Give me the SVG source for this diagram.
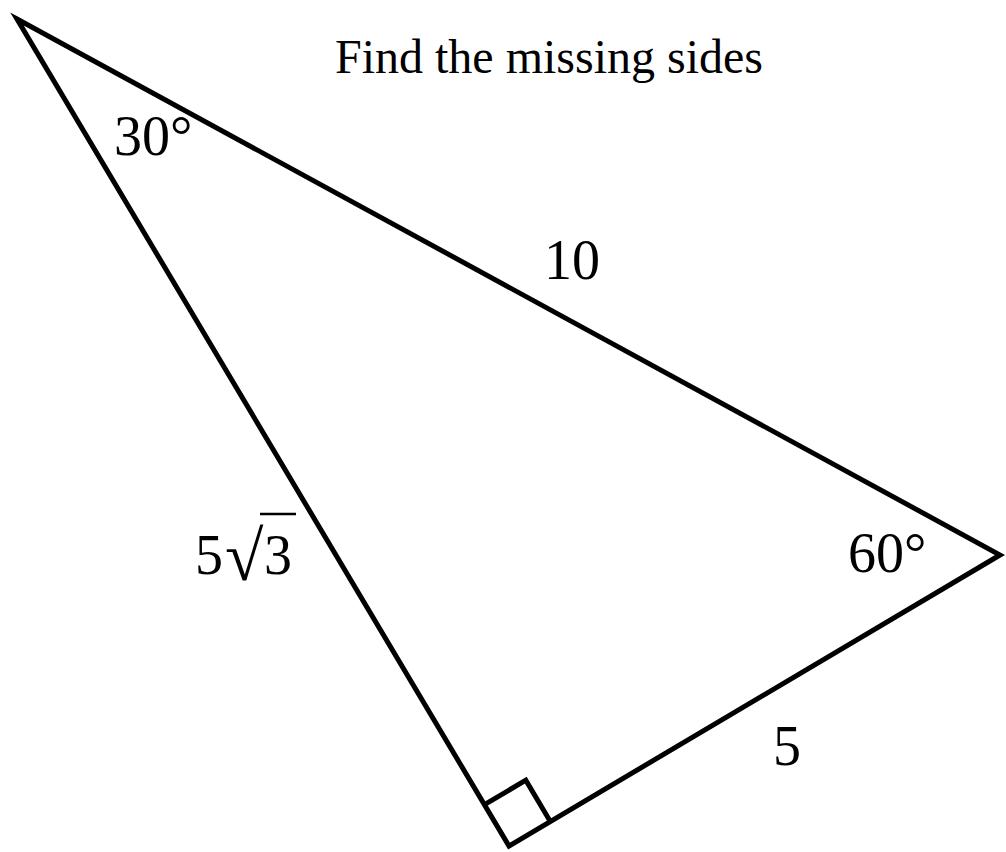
<svg xmlns="http://www.w3.org/2000/svg" width="1006" height="852" viewBox="0 0 1006 852">
<style>
.edge{fill:none;stroke:#000;stroke-width:5;stroke-linejoin:miter}
.lbl{font-family:"Liberation Serif","Times New Roman",serif;font-size:56px;fill:#000}
.title{font-family:"Liberation Serif","Times New Roman",serif;font-size:48px;fill:#000}
</style>
<rect width="1006" height="852" fill="#fff"/>
<g id="connectors">
<polygon class="edge" points="17,19 1000,555 509,846"/>
<polyline class="edge" points="484.5,804.7 525.8,780.2 550.3,821.5"/>
</g>
<g id="title"><text class="title" x="335" y="73">Find the missing sides</text></g>
<g id="angle-a"><text class="lbl" x="114" y="155">30°</text></g>
<g id="angle-b"><text class="lbl" x="848" y="572">60°</text></g>
<g id="hyp"><text class="lbl" x="544" y="279">10</text></g>
<g id="short"><text class="lbl" x="773" y="765">5</text></g>
<g id="long">
<text class="lbl" x="195" y="574">5</text>
<text class="lbl" x="225" y="580" style="font-size:70px">√</text>
<text class="lbl" x="264" y="574">3</text>
<line x1="260" y1="514" x2="296" y2="514" stroke="#000" stroke-width="2.5"/>
</g>
</svg>
